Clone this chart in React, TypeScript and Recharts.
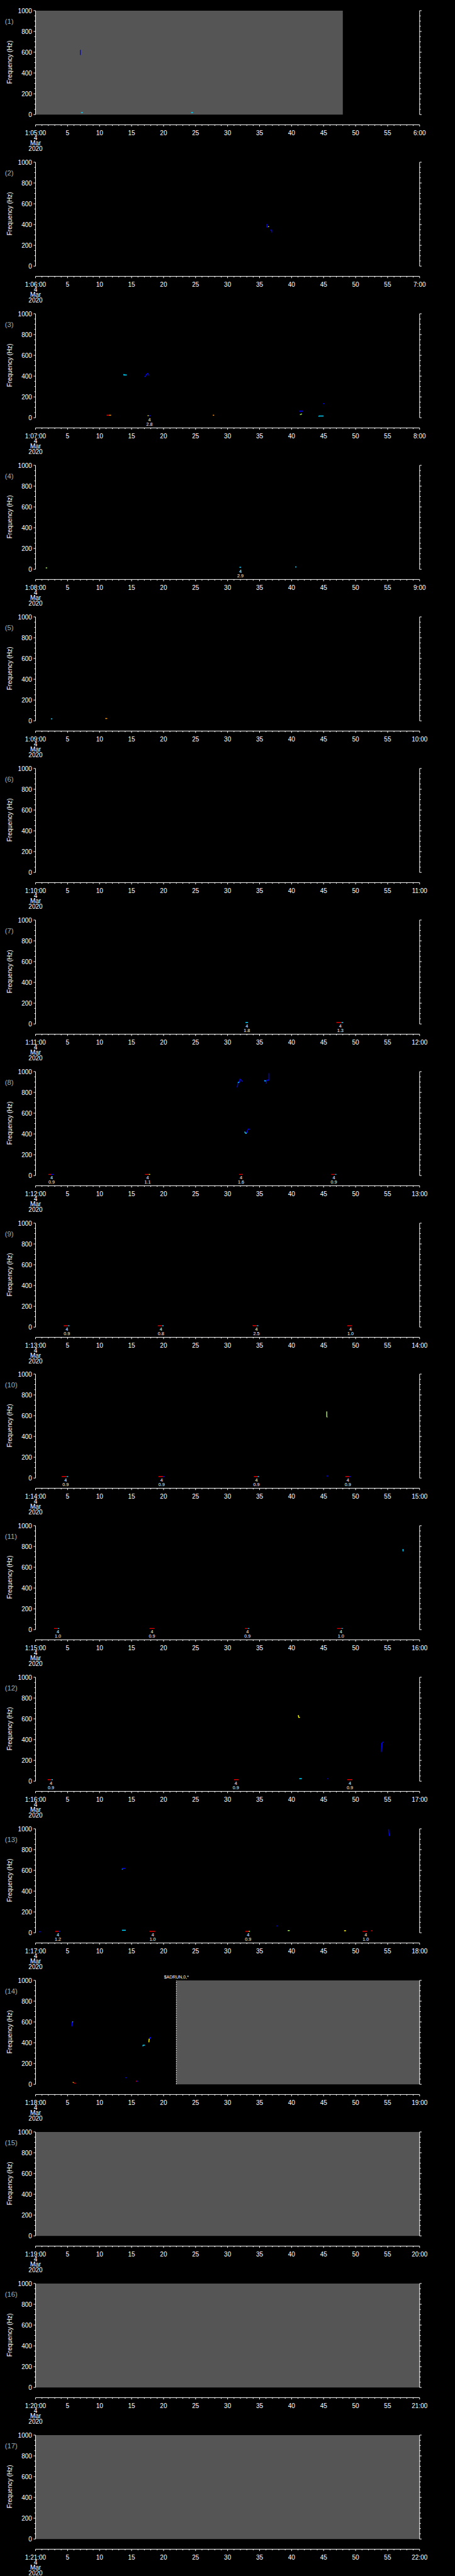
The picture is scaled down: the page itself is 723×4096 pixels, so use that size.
import React from 'react';
import { ComposedChart, XAxis, YAxis, Line, ReferenceArea, ReferenceLine, ReferenceDot } from 'recharts';

type Mark = { l: number; p: number[][] };
type Note = { t: number; n: string; v: string };

// ---------------- data ----------------
const panelNames = ['(1)', '(2)', '(3)', '(4)', '(5)', '(6)', '(7)', '(8)', '(9)', '(10)', '(11)', '(12)', '(13)', '(14)', '(15)', '(16)', '(17)'];
const startLabels = ['1:05:00', '1:06:00', '1:07:00', '1:08:00', '1:09:00', '1:10:00', '1:11:00', '1:12:00', '1:13:00', '1:14:00', '1:15:00', '1:16:00', '1:17:00', '1:18:00', '1:19:00', '1:20:00', '1:21:00'];
const endLabels = ['6:00', '7:00', '8:00', '9:00', '10:00', '11:00', '12:00', '13:00', '14:00', '15:00', '16:00', '17:00', '18:00', '19:00', '20:00', '21:00', '22:00'];
const midLabels = ['5', '10', '15', '20', '25', '30', '35', '40', '45', '50', '55'];
const dateLines = ['4', 'Mar', '2020'];
const secondTicks = [0, 1, 2, 3, 4, 5, 6, 7, 8, 9, 10, 11, 12, 13, 14, 15, 16, 17, 18, 19, 20, 21, 22, 23, 24, 25, 26, 27, 28, 29, 30, 31, 32, 33, 34, 35, 36, 37, 38, 39, 40, 41, 42, 43, 44, 45, 46, 47, 48, 49, 50, 51, 52, 53, 54, 55, 56, 57, 58, 59, 60];
const freqTicks = [0, 50, 100, 150, 200, 250, 300, 350, 400, 450, 500, 550, 600, 650, 700, 750, 800, 850, 900, 950, 1000];
const freqLabels = [0, 200, 400, 600, 800, 1000];
const yLabel = 'Frequency  (Hz)';

// grey "no data" spans (seconds)
const gray1 = [[0, 48]];
const gray14 = [[22, 60]];
const gray15 = [[0, 60]];
const gray16 = [[0, 60]];
const gray17 = [[0, 60]];

// event markers
const events14 = [{ t: 22, text: '$ADRUN,0,*' }];

// spectrogram traces: l = intensity level, p = [seconds, Hz]
const marks1: Mark[] = [
  { l: 1, p: [[7.0, 623], [7.0, 573]] },
  { l: 2, p: [[7.1, 19], [7.4, 19]] },
  { l: 2, p: [[24.3, 19], [24.6, 19]] },
];
const marks2: Mark[] = [
  { l: 1, p: [[36.13, 406], [36.13, 376], [36.3, 376]] },
  { l: 4, p: [[36.32, 380], [36.48, 380]] },
  { l: 1, p: [[36.65, 347], [36.88, 347], [36.88, 323]] },
];
const marks3: Mark[] = [
  { l: 2, p: [[13.8, 420], [13.8, 411], [14.25, 411]] },
  { l: 1, p: [[17.0, 393], [17.2, 400], [17.3, 415], [17.5, 425], [17.6, 420], [17.65, 405]] },
  { l: 6, p: [[11.1, 24], [11.5, 24]] },
  { l: 5, p: [[11.5, 24], [11.8, 24]] },
  { l: 4, p: [[17.5, 20], [17.7, 20]] },
  { l: 1, p: [[17.7, 20], [18.0, 20]] },
  { l: 5, p: [[27.7, 24], [27.9, 24]] },
  { l: 1, p: [[41.2, 63], [41.8, 63]] },
  { l: 3, p: [[41.3, 29], [41.5, 33], [41.6, 38]] },
  { l: 2, p: [[44.2, 13], [44.3, 16], [45.0, 16]] },
  { l: 1, p: [[44.9, 136], [45.1, 136]] },
];
const marks4: Mark[] = [
  { l: 3, p: [[1.6, 13], [1.8, 13]] },
  { l: 2, p: [[31.85, 19], [32.1, 19]] },
  { l: 2, p: [[40.55, 22], [40.75, 22]] },
];
const marks5: Mark[] = [
  { l: 2, p: [[2.4, 19], [2.6, 19]] },
  { l: 5, p: [[10.9, 22], [11.2, 22]] },
];
const marks6: Mark[] = [];
const marks7: Mark[] = [
  { l: 2, p: [[32.8, 15], [33.2, 15]] },
  { l: 6, p: [[47.0, 15], [47.8, 15]] },
  { l: 2, p: [[47.8, 15], [48.05, 15]] },
];
const marks8: Mark[] = [
  { l: 1, p: [[31.48, 850], [31.55, 858], [31.6, 897]] },
  { l: 2, p: [[31.6, 897], [31.85, 897]] },
  { l: 1, p: [[31.85, 897], [31.95, 928], [32.3, 905]] },
  { l: 1, p: [[36.47, 985], [36.47, 918], [36.1, 918], [36.05, 885]] },
  { l: 1, p: [[35.75, 920], [35.75, 905]] },
  { l: 2, p: [[35.75, 912], [36.0, 910]] },
  { l: 2, p: [[32.68, 423], [32.75, 410], [32.9, 406], [33.0, 412]] },
  { l: 1, p: [[33.0, 412], [33.05, 420], [33.15, 440], [33.2, 446], [33.45, 446]] },
  { l: 6, p: [[2.0, 11], [2.5, 11]] },
  { l: 1, p: [[2.5, 11], [2.8, 11]] },
  { l: 6, p: [[17.1, 11], [17.7, 11]] },
  { l: 4, p: [[17.7, 11], [17.9, 11]] },
  { l: 6, p: [[31.8, 11], [32.4, 11]] },
  { l: 6, p: [[46.2, 11], [46.8, 11]] },
  { l: 2, p: [[46.8, 11], [47.0, 11]] },
];
const marks9: Mark[] = [
  { l: 6, p: [[4.4, 13], [5.1, 13]] },
  { l: 2, p: [[5.1, 13], [5.3, 13]] },
  { l: 6, p: [[19.1, 13], [19.8, 13]] },
  { l: 2, p: [[19.8, 13], [20.0, 13]] },
  { l: 6, p: [[33.9, 16], [34.1, 13], [34.6, 13]] },
  { l: 2, p: [[34.6, 13], [34.8, 13]] },
  { l: 6, p: [[48.7, 13], [49.4, 13]] },
];
const marks10: Mark[] = [
  { l: 6, p: [[4.1, 15], [4.9, 15]] },
  { l: 2, p: [[4.9, 15], [5.1, 15]] },
  { l: 6, p: [[19.2, 15], [19.9, 15]] },
  { l: 1, p: [[19.9, 15], [20.1, 15]] },
  { l: 6, p: [[34.1, 15], [34.7, 15]] },
  { l: 2, p: [[34.7, 15], [34.9, 15]] },
  { l: 6, p: [[48.4, 15], [49.0, 15]] },
  { l: 1, p: [[49.0, 15], [49.2, 15]] },
  { l: 3, p: [[45.5, 641], [45.5, 590], [45.6, 585]] },
  { l: 1, p: [[45.45, 19], [45.7, 19]] },
];
const marks11: Mark[] = [
  { l: 6, p: [[2.9, 11], [3.5, 11]] },
  { l: 2, p: [[3.5, 11], [3.7, 11]] },
  { l: 6, p: [[17.8, 11], [18.6, 11]] },
  { l: 6, p: [[32.7, 11], [33.2, 11]] },
  { l: 2, p: [[33.2, 11], [33.4, 11]] },
  { l: 6, p: [[47.1, 11], [47.8, 11]] },
  { l: 2, p: [[47.8, 11], [48.0, 11]] },
  { l: 2, p: [[57.4, 776], [57.4, 757], [57.5, 757]] },
];
const marks12: Mark[] = [
  { l: 6, p: [[1.9, 15], [2.5, 15]] },
  { l: 2, p: [[2.5, 15], [2.7, 15]] },
  { l: 6, p: [[31.0, 15], [31.7, 15]] },
  { l: 6, p: [[48.7, 15], [49.5, 15]] },
  { l: 4, p: [[41.05, 636], [41.1, 615], [41.3, 613]] },
  { l: 2, p: [[41.2, 24], [41.6, 24]] },
  { l: 1, p: [[45.6, 24], [45.75, 24]] },
  { l: 1, p: [[54.0, 281], [54.05, 330], [54.1, 365], [54.3, 377]] },
];
const marks13: Mark[] = [
  { l: 1, p: [[0.57, 9], [0.8, 9]] },
  { l: 6, p: [[3.1, 13], [3.6, 13]] },
  { l: 1, p: [[3.6, 13], [3.8, 13]] },
  { l: 2, p: [[13.5, 24], [14.1, 24]] },
  { l: 2, p: [[13.55, 607], [13.55, 615]] },
  { l: 1, p: [[13.55, 618], [14.0, 620]] },
  { l: 6, p: [[17.8, 13], [18.7, 13]] },
  { l: 6, p: [[32.8, 13], [33.3, 13]] },
  { l: 3, p: [[33.3, 13], [33.5, 13]] },
  { l: 1, p: [[37.6, 65], [37.8, 65]] },
  { l: 3, p: [[39.4, 21], [39.7, 21]] },
  { l: 4, p: [[48.2, 19], [48.5, 19]] },
  { l: 6, p: [[51.1, 13], [51.8, 13]] },
  { l: 6, p: [[52.4, 19], [52.65, 19]] },
  { l: 1, p: [[55.15, 996], [55.2, 960], [55.3, 931]] },
];
const marks14: Mark[] = [
  { l: 1, p: [[5.65, 557], [5.7, 590], [5.75, 600]] },
  { l: 2, p: [[5.75, 600], [5.87, 604]] },
  { l: 5, p: [[5.8, 20], [6.0, 15]] },
  { l: 6, p: [[6.0, 11], [6.3, 11]] },
  { l: 1, p: [[14.0, 64], [14.2, 64]] },
  { l: 6, p: [[15.7, 30], [15.9, 30]] },
  { l: 1, p: [[15.9, 30], [16.0, 30]] },
  { l: 2, p: [[16.75, 366], [16.8, 376], [17.1, 376]] },
  { l: 4, p: [[17.7, 404], [17.75, 436], [17.85, 436]] },
  { l: 1, p: [[17.85, 436], [17.9, 450], [18.06, 450]] },
];

// small annotations under the plot
const notes3: Note[] = [{ t: 17.8, n: '4', v: '2.8' }];
const notes4: Note[] = [{ t: 32.0, n: '4', v: '2.9' }];
const notes7: Note[] = [{ t: 33.0, n: '4', v: '1.8' }, { t: 47.6, n: '4', v: '1.3' }];
const notes8: Note[] = [{ t: 2.5, n: '4', v: '0.9' }, { t: 17.5, n: '4', v: '1.1' }, { t: 32.1, n: '4', v: '1.6' }, { t: 46.6, n: '4', v: '0.9' }];
const notes9: Note[] = [{ t: 4.9, n: '4', v: '0.9' }, { t: 19.6, n: '4', v: '0.8' }, { t: 34.5, n: '4', v: '2.5' }, { t: 49.2, n: '4', v: '1.0' }];
const notes10: Note[] = [{ t: 4.7, n: '4', v: '0.9' }, { t: 19.7, n: '4', v: '0.9' }, { t: 34.5, n: '4', v: '0.9' }, { t: 48.8, n: '4', v: '0.9' }];
const notes11: Note[] = [{ t: 3.5, n: '4', v: '1.0' }, { t: 18.2, n: '4', v: '0.9' }, { t: 33.1, n: '4', v: '0.9' }, { t: 47.7, n: '4', v: '1.0' }];
const notes12: Note[] = [{ t: 2.4, n: '4', v: '0.9' }, { t: 31.3, n: '4', v: '0.9' }, { t: 49.1, n: '4', v: '0.9' }];
const notes13: Note[] = [{ t: 3.5, n: '4', v: '1.2' }, { t: 18.3, n: '4', v: '1.0' }, { t: 33.2, n: '4', v: '0.9' }, { t: 51.6, n: '4', v: '1.0' }];

const panelMarks: Mark[][] = [marks1, marks2, marks3, marks4, marks5, marks6, marks7, marks8, marks9, marks10, marks11, marks12, marks13, marks14, [], [], []];
const panelGray: number[][][] = [gray1, [], [], [], [], [], [], [], [], [], [], [], [], gray14, gray15, gray16, gray17];
const panelNotes: Note[][] = [[], [], notes3, notes4, [], [], notes7, notes8, notes9, notes10, notes11, notes12, notes13, [], [], [], []];
const panelEvents: { t: number; text: string }[][] = [[], [], [], [], [], [], [], [], [], [], [], [], [], events14, [], [], []];

// ---------------- layout / style ----------------
const S = 723 / 1024;
const W = 723;
const PANEL_H = 341.25 * S;
const TOP = 24 * S;
const LEFT = 80 * S;
const RIGHT_X = 944.4 * S;
const RIGHT_W = W - RIGHT_X;
const PLOT_H = 234 * S;
const PLOT_B = TOP + PLOT_H;
const BOTTOM_H = PANEL_H - PLOT_B;
const AXIS_Y = 281 * S;
const X_AXIS_F = -((281 - 258) / 234) * 1000;
const FS = 10;
const FONT = "'Liberation Sans', Arial, sans-serif";
const LVL_COLORS = ['#000', '#0000ff', '#00d4ff', '#a8ff50', '#ffff00', '#ff9000', '#e00000'];
const GRAY = '#555555';

const makeXTick = (k: number) => (props: any) => {
  const { x, payload } = props;
  const v = payload.value as number;
  const major = v % 5 === 0;
  const len = major ? 4 * S : 2.5 * S;
  let txt: string | null = null;
  if (major) txt = v === 0 ? startLabels[k] : v === 60 ? endLabels[k] : midLabels[v / 5 - 1];
  return (
    <g>
      <line x1={x} x2={x} y1={AXIS_Y} y2={AXIS_Y + len} stroke="#fff" strokeWidth={1} />
      {txt && (
        <text x={x} y={298.75 * S + 3.6} textAnchor="middle" fill="#fff" fontSize={FS} fontFamily={FONT}>
          {txt}
        </text>
      )}
      {v === 0 &&
        dateLines.map((d, i) => (
          <text key={i} x={x} y={(310.6 + i * 12.1) * S + 3.6} textAnchor="middle" fill="#fff" fontSize={FS} fontFamily={FONT}>
            {d}
          </text>
        ))}
    </g>
  );
};

const YTickL = (props: any) => {
  const { y, payload } = props;
  const v = payload.value as number;
  const major = freqLabels.indexOf(v) >= 0;
  const len = major ? 4.5 * S : 2.7 * S;
  return (
    <g>
      <line x1={LEFT} x2={LEFT - len} y1={y} y2={y} stroke="#fff" strokeWidth={1} />
      {major && (
        <text x={LEFT - 8 * S} y={y + 3.6} textAnchor="end" fill="#fff" fontSize={FS} fontFamily={FONT}>
          {String(v)}
        </text>
      )}
    </g>
  );
};

const YTickR = (props: any) => {
  const { y, payload } = props;
  const v = payload.value as number;
  const major = freqLabels.indexOf(v) >= 0;
  const len = major ? 4.5 * S : 2.7 * S;
  return <line x1={RIGHT_X} x2={RIGHT_X + len} y1={y} y2={y} stroke="#fff" strokeWidth={1} />;
};

const noteShape = (note: Note) => (props: any) => {
  const { cx, cy } = props;
  return (
    <g>
      <text x={cx} y={cy + 5 * S + 2.6} textAnchor="middle" fill="#fff" fontSize={7.2} fontFamily={FONT}>
        {note.n}
      </text>
      <text x={cx} y={cy + 14.5 * S + 2.6} textAnchor="middle" fill="#fff" fontSize={7.2} fontFamily={FONT}>
        {note.v}
      </text>
    </g>
  );
};

function Panel({ k }: { k: number }) {
  const marks = panelMarks[k];
  const gray = panelGray[k];
  const notes = panelNotes[k];
  const events = panelEvents[k];
  return (
    <div style={{ position: 'absolute', left: 0, top: k * PANEL_H, width: W, height: PANEL_H }}>
      <ComposedChart width={W} height={PANEL_H} margin={{ top: TOP, right: 0, bottom: 0, left: 0 }}>
        <XAxis
          xAxisId="x"
          type="number"
          dataKey="t"
          domain={[0, 60]}
          allowDataOverflow
          ticks={secondTicks}
          interval={0}
          axisLine={false}
          tickLine={false}
          tickSize={0}
          tickMargin={0}
          height={BOTTOM_H}
          tick={makeXTick(k)}
        />
        <YAxis
          yAxisId="l"
          type="number"
          dataKey="f"
          domain={[0, 1000]}
          allowDataOverflow
          ticks={freqTicks}
          interval={0}
          width={LEFT}
          tickLine={false}
          tickSize={0}
          tickMargin={0}
          axisLine={{ stroke: '#fff', strokeWidth: 1 }}
          tick={YTickL}
        />
        <YAxis
          yAxisId="r"
          orientation="right"
          type="number"
          domain={[0, 1000]}
          allowDataOverflow
          ticks={freqTicks}
          interval={0}
          width={RIGHT_W}
          tickLine={false}
          tickSize={0}
          tickMargin={0}
          axisLine={{ stroke: '#fff', strokeWidth: 1 }}
          tick={YTickR}
        />
        {gray.map(([a, b], i) => (
          <ReferenceArea
            key={'g' + i}
            xAxisId="x"
            yAxisId="l"
            x1={a}
            x2={b}
            y1={0}
            y2={1000}
            fill={GRAY}
            fillOpacity={1}
            stroke="none"
            zIndex={50}
          />
        ))}
        <ReferenceLine xAxisId="x" yAxisId="l" y={X_AXIS_F} stroke="#fff" strokeWidth={1} ifOverflow="visible" />
        {events.map((e, i) => (
          <ReferenceLine
            key={'e' + i}
            xAxisId="x"
            yAxisId="l"
            x={e.t}
            stroke="#fff"
            strokeWidth={1}
            strokeDasharray="2 1.5"
            label={{ value: e.text, position: 'top', fill: '#fff', fontSize: 7, fontFamily: FONT, offset: 2.5 }}
          />
        ))}
        {marks.map((m, i) => (
          <Line
            key={'m' + i}
            xAxisId="x"
            yAxisId="l"
            data={m.p.map(([t, f]) => ({ t, f }))}
            dataKey="f"
            type="linear"
            stroke={LVL_COLORS[m.l]}
            strokeWidth={1.4}
            dot={false}
            activeDot={false}
            isAnimationActive={false}
          />
        ))}
        {notes.map((n, i) => (
          <ReferenceDot
            key={'n' + i}
            xAxisId="x"
            yAxisId="l"
            x={n.t}
            y={0}
            r={0}
            ifOverflow="visible"
            shape={noteShape(n)}
          />
        ))}
      </ComposedChart>
      <svg
        width={W}
        height={PANEL_H}
        style={{ position: 'absolute', left: 0, top: 0, pointerEvents: 'none' }}
      >
        <text x={11 * S} y={48 * S + 4.1} fill="#aaaaaa" fontSize={11.3} fontFamily={FONT}>
          {panelNames[k]}
        </text>
        <text
          x={19}
          y={140 * S}
          transform={`rotate(-90 19 ${140 * S})`}
          textAnchor="middle"
          fill="#fff"
          fontSize={FS}
          fontFamily={FONT}
        >
          {yLabel}
        </text>
      </svg>
    </div>
  );
}

export default function App() {
  return (
    <div style={{ position: 'relative', width: W, height: 4096, background: '#000', overflow: 'hidden' }}>
      <style>{'html,body{margin:0;padding:0;background:#000;}'}</style>
      {panelNames.map((_, k) => (
        <Panel key={k} k={k} />
      ))}
    </div>
  );
}
